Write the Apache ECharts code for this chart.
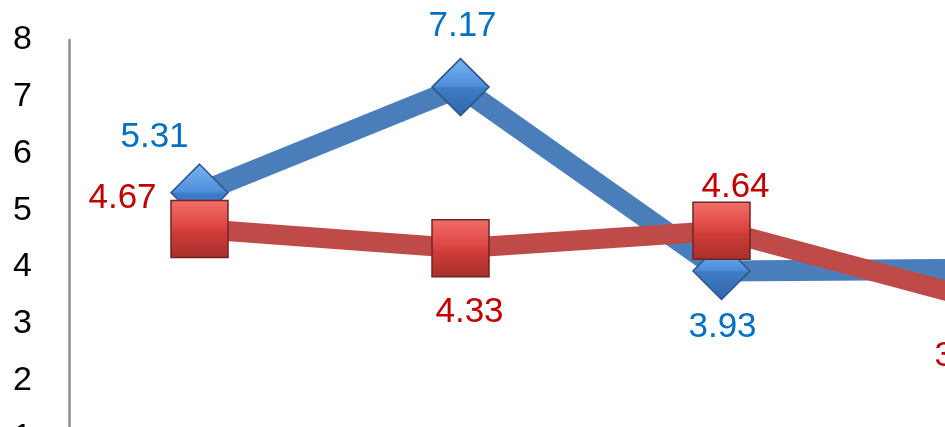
<!DOCTYPE html>
<html>
<head>
<meta charset="utf-8">
<script src="https://cdn.jsdelivr.net/npm/echarts@6/dist/echarts.min.js"></script>
<style>
html,body{margin:0;padding:0;background:#fff;width:945px;height:427px;overflow:hidden;}
#chart{width:1113px;height:494px;}
</style>
</head>
<body>
<div id="chart"></div>
<script>
// ---- data ----
var categories = ['1', '2', '3', '4'];
var blueValues = [5.31, 7.17, 3.93, 3.96];
var redValues = [4.67, 4.33, 4.64, 3.41];
var yTicks = [0, 1, 2, 3, 4, 5, 6, 7, 8];

// ---- label placement (style only) ----
var blueLabelOffsets = [[-45, -55], [2, -61], [1, 56], [0, 56]];
var redLabelOffsets = [[-77, -31], [9, 64], [14, -43], [-14, 56]];

function buildData(values, offsets) {
  return values.map(function (v, i) {
    return { value: v, label: { offset: offsets[i] } };
  });
}

var chart = echarts.init(document.getElementById('chart'), null, { renderer: 'canvas' });
var font = '"Liberation Sans", Arial, sans-serif';

var diamondFill = {
  type: 'linear', x: 0, y: 0, x2: 0, y2: 1,
  colorStops: [
    { offset: 0, color: '#7db4f0' },
    { offset: 0.48, color: '#4e8fdc' },
    { offset: 0.52, color: '#3f7bc6' },
    { offset: 1, color: '#2f66aa' }
  ]
};
var squareFill = {
  type: 'linear', x: 0, y: 0, x2: 0, y2: 1,
  colorStops: [
    { offset: 0, color: '#f26e6a' },
    { offset: 0.45, color: '#de4743' },
    { offset: 0.55, color: '#d03c38' },
    { offset: 1, color: '#a82f2c' }
  ]
};

var option = {
  animation: false,
  backgroundColor: '#ffffff',
  grid: { left: 69, top: 40, right: 0, bottom: 0, containLabel: false, outerBoundsMode: 'none' },
  xAxis: {
    type: 'category',
    data: categories,
    boundaryGap: true,
    axisLine: { show: false },
    axisTick: { show: false },
    axisLabel: { show: false },
    splitLine: { show: false }
  },
  yAxis: {
    type: 'value',
    min: yTicks[0],
    max: yTicks[yTicks.length - 1],
    interval: 1,
    axisLine: { show: true, lineStyle: { color: '#8e8e8e', width: 2.5 } },
    axisTick: { show: false },
    splitLine: { show: false },
    axisLabel: {
      margin: 37,
      color: '#000000',
      fontSize: 34,
      fontFamily: font
    }
  },
  series: [
    {
      type: 'line',
      z: 2,
      data: buildData(blueValues, blueLabelOffsets),
      symbol: 'diamond',
      symbolSize: 57,
      lineStyle: { color: '#4a7ebb', width: 21 },
      itemStyle: { color: diamondFill, borderColor: '#2b5584', borderWidth: 1.5 },
      label: {
        show: true,
        position: 'inside',
        color: '#0070c0',
        fontSize: 35,
        fontFamily: font,
        formatter: function (p) { return p.value.toFixed(2); }
      }
    },
    {
      type: 'line',
      z: 3,
      data: buildData(redValues, redLabelOffsets),
      symbol: 'rect',
      symbolSize: 57,
      lineStyle: { color: '#be4b48', width: 20 },
      itemStyle: { color: squareFill, borderColor: '#6e2624', borderWidth: 1.5 },
      label: {
        show: true,
        position: 'inside',
        color: '#c00000',
        fontSize: 35,
        fontFamily: font,
        formatter: function (p) { return p.value.toFixed(2); }
      }
    }
  ]
};
chart.setOption(option);
</script>
</body>
</html>
